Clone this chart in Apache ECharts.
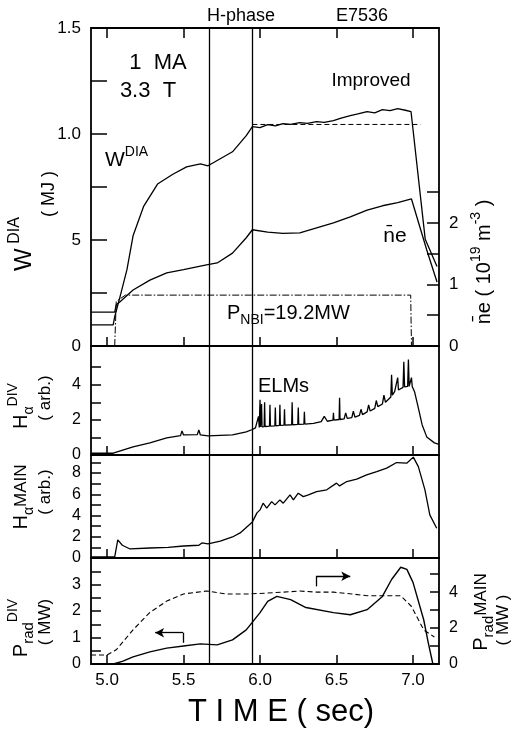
<!DOCTYPE html>
<html><head><meta charset="utf-8">
<script src="https://cdn.jsdelivr.net/npm/echarts@6/dist/echarts.min.js"></script>
<style>html,body{margin:0;padding:0;background:#fff}#c{width:518px;height:733px}</style>
</head><body><div id="c"></div>
<script>
// ---------- DATA ----------
const xTickValues = [5.0, 5.5, 6.0, 6.5, 7.0];
const hPhaseLines = [5.665, 5.95];

// Panel 1: W_DIA (MJ, left axis)
const wdiaTime = [4.895, 5.04, 5.05, 5.085, 5.13, 5.17, 5.24, 5.33, 5.43, 5.52, 5.61, 5.66, 5.74, 5.82, 5.91, 5.95, 6.0, 6.05, 6.1, 6.15, 6.2, 6.26, 6.31, 6.37, 6.42, 6.48, 6.53, 6.59, 6.64, 6.70, 6.75, 6.80, 6.85, 6.90, 6.95, 6.987, 7.08, 7.157];
const wdiaValue = [1.0, 1.0, 1.38, 2.33, 3.6, 5.2, 6.6, 7.64, 8.1, 8.45, 8.59, 8.5, 8.83, 9.16, 9.92, 10.35, 10.3, 10.44, 10.38, 10.49, 10.45, 10.54, 10.5, 10.58, 10.55, 10.63, 10.75, 10.87, 10.95, 11.06, 11.0, 11.15, 11.1, 11.2, 11.12, 11.06, 5.03, 3.75];
// Panel 1: line-averaged density (1e19 m^-3, right axis)
const neTime = [4.895, 5.05, 5.06, 5.085, 5.17, 5.28, 5.39, 5.50, 5.65, 5.72, 5.82, 5.91, 5.95, 6.05, 6.15, 6.26, 6.37, 6.48, 6.59, 6.70, 6.80, 6.90, 6.99, 7.09, 7.157];
const neValue = [0.55, 0.55, 0.67, 0.72, 0.91, 1.07, 1.19, 1.24, 1.32, 1.35, 1.51, 1.76, 1.89, 1.85, 1.83, 1.84, 1.92, 2.0, 2.1, 2.21, 2.28, 2.33, 2.39, 1.56, 1.04];
// Panel 1: NBI timing trace (left axis units)
const nbiTime = [5.05, 5.06, 5.12, 6.985, 6.99];
const nbiValue = [0, 2.1, 2.4, 2.4, 0];
// Panel 1: reference level (dashed)
const refTime = [5.95, 7.05];
const refValue = [10.45, 10.45];

// Panel 2: H-alpha divertor (arb.)
const haDivTime = [4.895, 5.04, 5.17, 5.28, 5.39, 5.48, 5.49, 5.5, 5.59, 5.6, 5.61, 5.66, 5.74, 5.82, 5.91, 5.95,
  5.97, 5.98, 5.99, 5.995, 5.998, 6.0, 6.003, 6.008, 6.01, 6.013, 6.027, 6.03, 6.033, 6.062, 6.065, 6.068,
  6.097, 6.1, 6.103, 6.127, 6.13, 6.133, 6.157, 6.16, 6.163, 6.207, 6.21, 6.213, 6.247, 6.25, 6.253,
  6.287, 6.29, 6.293, 6.35, 6.4, 6.42, 6.44, 6.477, 6.48, 6.483, 6.517, 6.52, 6.523, 6.55, 6.56, 6.57,
  6.6, 6.61, 6.62, 6.65, 6.66, 6.67, 6.7, 6.71, 6.72, 6.75, 6.76, 6.77, 6.8, 6.81, 6.82, 6.855, 6.86, 6.865,
  6.88, 6.9, 6.905, 6.935, 6.94, 6.945, 6.965, 6.97, 6.975, 6.985, 6.99, 6.995, 7.01, 7.03, 7.06, 7.09, 7.14, 7.165];
const haDivValue = [0.1, 0.1, 0.46, 0.69, 0.97, 1.1, 1.37, 1.14, 1.16, 1.43, 1.14, 1.09, 1.12, 1.14, 1.31, 1.45,
  1.54, 1.56, 2.2, 1.56, 1.58, 3.14, 1.6, 1.6, 2.9, 1.6, 1.62, 3.0, 1.62, 1.64, 2.86, 1.64,
  1.66, 2.7, 1.66, 1.68, 2.86, 1.68, 1.7, 2.6, 1.7, 1.72, 3.0, 1.72, 1.74, 2.7, 1.74,
  1.76, 2.46, 1.76, 1.8, 1.9, 2.2, 1.92, 1.98, 2.4, 1.98, 2.02, 3.26, 2.02, 2.06, 2.4, 2.08,
  2.12, 2.5, 2.16, 2.25, 2.6, 2.3, 2.45, 2.85, 2.5, 2.65, 3.1, 2.75, 2.9, 3.4, 3.0, 3.3, 4.57, 3.4,
  3.6, 4.4, 3.7, 3.85, 5.3, 3.88, 3.9, 5.43, 3.9, 3.9, 4.4, 3.9, 3.6, 2.86, 1.71, 1.03, 0.69, 0.62];

// Panel 3: H-alpha main (arb.)
const haMainTime = [4.895, 5.05, 5.07, 5.1, 5.15, 5.28, 5.4, 5.5, 5.6, 5.62, 5.66, 5.74, 5.82, 5.87, 5.95, 5.98, 6.0, 6.02, 6.044, 6.076, 6.098, 6.13, 6.152, 6.196, 6.218, 6.25, 6.283, 6.316, 6.37, 6.436, 6.5, 6.52, 6.567, 6.632, 6.697, 6.763, 6.828, 6.893, 6.959, 7.002, 7.035, 7.078, 7.11, 7.155];
const haMainValue = [0.1, 0.1, 1.7, 1.2, 0.85, 0.94, 1.0, 1.13, 1.2, 1.42, 1.32, 1.6, 1.98, 2.36, 3.4, 4.25, 4.53, 5.16, 4.69, 5.31, 5.0, 5.47, 5.16, 5.94, 5.47, 6.1, 5.78, 5.94, 6.26, 6.42, 7.05, 6.79, 7.2, 7.42, 7.83, 8.14, 8.46, 8.99, 8.93, 9.5, 8.61, 6.42, 4.06, 2.8];

// Panel 4: radiated power, divertor (MW, left) and main (MW, right, dashed)
const pradDivTime = [5.04, 5.1, 5.17, 5.28, 5.39, 5.5, 5.61, 5.72, 5.82, 5.91, 6.0, 6.05, 6.11, 6.2, 6.3, 6.48, 6.59, 6.7, 6.8, 6.86, 6.92, 6.96, 7.0, 7.07, 7.1, 7.13];
const pradDivValue = [0, 0.1, 0.27, 0.46, 0.6, 0.68, 0.76, 0.72, 0.91, 1.29, 1.94, 2.36, 2.55, 2.43, 2.13, 1.94, 1.86, 2.05, 2.55, 3.19, 3.65, 3.57, 3.08, 1.67, 0.8, 0];
const pradMainTime = [4.895, 5.0, 5.06, 5.17, 5.28, 5.39, 5.5, 5.65, 5.78, 5.93, 6.05, 6.15, 6.26, 6.37, 6.48, 6.6, 6.7, 6.8, 6.92, 6.99, 7.07, 7.14];
const pradMainValue = [0.5, 0.5, 0.79, 1.9, 2.87, 3.5, 3.9, 4.06, 3.9, 3.9, 3.95, 4.0, 4.06, 4.0, 4.0, 3.9, 3.8, 3.8, 3.8, 3.2, 1.9, 1.5];

// Axis tick labels
const wdiaLabels = {0: '0', 5: '5', 10: '1.0', 15: '1.5'};

// ---------- CHART ----------
const zip = (a, b) => a.map((t, i) => [t, b[i]]);
const FONT = '"Liberation Sans", Arial, sans-serif';
const BLACK = '#000';
const X_MIN = 4.895, X_MAX = 7.17;
const AX_W = 1.8;
const LINE_W = 1.3;

const grids = [
  {left: 91, right: 79, top: 28, height: 318},
  {left: 91, right: 79, top: 346, height: 109},
  {left: 91, right: 79, top: 455, height: 103},
  {left: 91, right: 79, top: 558, height: 106}
];

function xAx(gi, extra) {
  return Object.assign({
    type: 'value', gridIndex: gi, min: X_MIN, max: X_MAX, position: 'bottom',
    axisLine: {show: true, onZero: false, lineStyle: {color: BLACK, width: AX_W}},
    axisTick: {show: true, inside: true, length: 9, customValues: xTickValues, lineStyle: {color: BLACK, width: 1.5}},
    axisLabel: {show: false},
    splitLine: {show: false}
  }, extra || {});
}
function yAx(gi, pos, max, ticks, labels, tickLen, fontSize, fmt) {
  const o = {
    type: 'value', gridIndex: gi, position: pos, min: 0, max: max,
    axisLine: {show: true, onZero: false, lineStyle: {color: BLACK, width: AX_W}},
    axisTick: {show: !!ticks, inside: true, length: tickLen || 10, lineStyle: {color: BLACK, width: 1.5}},
    axisLabel: {show: !!labels, color: BLACK, fontFamily: FONT, fontSize: fontSize || 16, margin: 10},
    splitLine: {show: false}
  };
  if (ticks) o.axisTick.customValues = ticks;
  if (labels) {
    o.axisLabel.customValues = labels;
    o.axisLabel.formatter = fmt || (v => String(v));
  }
  return o;
}

const xAxes = [
  xAx(0),
  xAx(0, {position: 'top', axisTick: {show: true, inside: true, length: 10, customValues: xTickValues, lineStyle: {color: BLACK, width: 1.5}}}),
  xAx(1),
  xAx(2),
  xAx(3, {axisLabel: {show: true, customValues: xTickValues, formatter: v => v.toFixed(1), color: BLACK, fontFamily: FONT, fontSize: 17, margin: 8}})
];
const yAxes = [
  yAx(0, 'left', 15, [0, 2.5, 5, 7.5, 10, 12.5], [0, 5, 10, 15], 16, 17, v => wdiaLabels[v]),
  yAx(0, 'right', 5.17, [0, 0.5, 1, 1.5, 2, 2.5], [0, 1, 2], 12, 17),
  yAx(1, 'left', 6.2, [1, 2, 3, 4, 5], [0, 2, 4], 10, 16),
  yAx(1, 'right', 6.2, null, null),
  yAx(2, 'left', 9.7, [1, 2, 3, 4, 5, 6, 7, 8, 9], [0, 2, 4, 6, 8], 10, 16),
  yAx(2, 'right', 9.7, null, null),
  yAx(3, 'left', 4.0, [0.5, 1, 1.5, 2, 2.5, 3, 3.5], [0, 1, 2, 3], 10, 16),
  yAx(3, 'right', 5.9, [1, 2, 3, 4, 5], [0, 2, 4], 9, 16)
];

const vLineStyle = {color: BLACK, width: 1.3, type: 'solid'};
function vLines(extra) {
  return {
    silent: true, symbol: 'none', label: {show: false}, animation: false,
    lineStyle: vLineStyle,
    data: hPhaseLines.map(x => ({xAxis: x})).concat(extra || [])
  };
}
function line(name, xi, yi, data, style, markLine) {
  const s = {
    name, type: 'line', xAxisIndex: xi, yAxisIndex: yi, data,
    showSymbol: false, symbol: 'none', animation: false, silent: true,
    lineStyle: Object.assign({color: BLACK, width: LINE_W}, style || {})
  };
  if (markLine) s.markLine = markLine;
  return s;
}

const arrowSeg = (a, b, head) => [
  {coord: a, symbol: 'none'},
  {coord: b, symbol: head ? 'arrow' : 'none', symbolSize: [7, 9]}
];

const series = [
  line('W_DIA', 0, 0, zip(wdiaTime, wdiaValue), null, vLines()),
  line('ne', 0, 1, zip(neTime, neValue)),
  line('P_NBI', 0, 0, zip(nbiTime, nbiValue), {type: [7, 2, 1.5, 2], width: 1}),
  line('ref', 0, 0, zip(refTime, refValue), {type: [5, 3], width: 1}),
  line('Ha_DIV', 2, 2, zip(haDivTime, haDivValue), null, vLines()),
  line('Ha_MAIN', 3, 4, zip(haMainTime, haMainValue), null, vLines()),
  line('Prad_DIV', 4, 6, zip(pradDivTime, pradDivValue), {width: 1.4}, vLines([
    arrowSeg([6.366, 2.93], [6.366, 3.31], false),
    arrowSeg([6.366, 3.31], [6.59, 3.31], true),
    arrowSeg([5.497, 0.8], [5.497, 1.18], false),
    arrowSeg([5.497, 1.18], [5.314, 1.18], true)
  ])),
  line('Prad_MAIN', 4, 7, zip(pradMainTime, pradMainValue), {type: [5, 3], width: 1.1})
];

function txt(x, y, text, size, opts) {
  return Object.assign({
    type: 'text', x, y, silent: true,
    style: Object.assign({text, fill: BLACK, font: size + 'px ' + FONT, align: 'center', verticalAlign: 'middle'}, (opts && opts.style) || {})
  }, (opts && opts.el) || {});
}
function richTxt(x, y, text, rich, rot, align) {
  return {
    type: 'text', x, y, rotation: rot || 0, silent: true,
    style: {text, rich, fill: BLACK, align: align || 'center', verticalAlign: 'middle', fontFamily: FONT}
  };
}
const R = Math.PI / 2;
const base = (s, lh) => ({fontSize: s, fontFamily: FONT, color: BLACK, lineHeight: lh || s + 6, verticalAlign: 'middle'});
const sup = (s) => ({fontSize: s, fontFamily: FONT, color: BLACK, lineHeight: s, verticalAlign: 'top'});
const sub = (s) => ({fontSize: s, fontFamily: FONT, color: BLACK, lineHeight: s, verticalAlign: 'bottom'});

const graphic = [
  txt(241, 16, 'H-phase', 18),
  txt(362, 16, 'E7536', 18),
  txt(158, 63, '1  MA', 22),
  txt(148, 91, '3.3  T', 22),
  txt(371, 81, 'Improved', 19),
  richTxt(105, 160, '{b|W}{s|DIA}', {b: base(21, 30), s: sup(14)}, 0, 'left'),
  txt(395, 236, 'n\u0304e', 21),
  richTxt(227, 313, '{b|P}{d|NBI}{b|=19.2MW}', {b: base(20, 28), d: sub(14)}, 0, 'left'),
  richTxt(258, 386, '{b|ELMs}', {b: base(20)}, 0, 'left'),
  txt(281, 712, 'T I M E ( sec)', 31),
  // axis titles
  richTxt(24, 244, '{b|W}{s| DIA}', {b: base(24, 34), s: sup(16)}, R),
  richTxt(49, 194, '{b|( MJ )}', {b: base(18)}, R),
  richTxt(484, 262, '{b|n\u0304e ( 10}{s|19}{b| m}{s|-3}{b| )}', {b: base(20, 30), s: sup(14)}, R),
  richTxt(21, 406, '{b|H}{d|\u03b1}{s|DIV}', {b: base(20, 30), d: sub(14), s: sup(14)}, R),
  richTxt(45, 398, '{b|( arb.)}', {b: base(17)}, R),
  richTxt(21, 497, '{b|H}{d|\u03b1}{m|MAIN}', {b: base(20, 30), d: sub(14), m: base(17, 30)}, R),
  richTxt(45, 492, '{b|( arb.)}', {b: base(17)}, R),
  richTxt(21, 628, '{b|P}{d|rad}{s|DIV}', {b: base(20, 30), d: sub(15), s: sup(14)}, R),
  richTxt(45, 622, '{b|( MW)}', {b: base(17)}, R),
  richTxt(481, 612, '{b|P}{d|rad}{m|MAIN}', {b: base(20, 30), d: sub(15), m: base(17, 30)}, R),
  richTxt(503, 620, '{b|( MW )}', {b: base(17)}, R)
];

const chart = echarts.init(document.getElementById('c'), null, {renderer: 'canvas'});
chart.setOption({
  backgroundColor: '#fff',
  animation: false,
  grid: grids,
  xAxis: xAxes,
  yAxis: yAxes,
  series,
  graphic
});
</script>
</body></html>
